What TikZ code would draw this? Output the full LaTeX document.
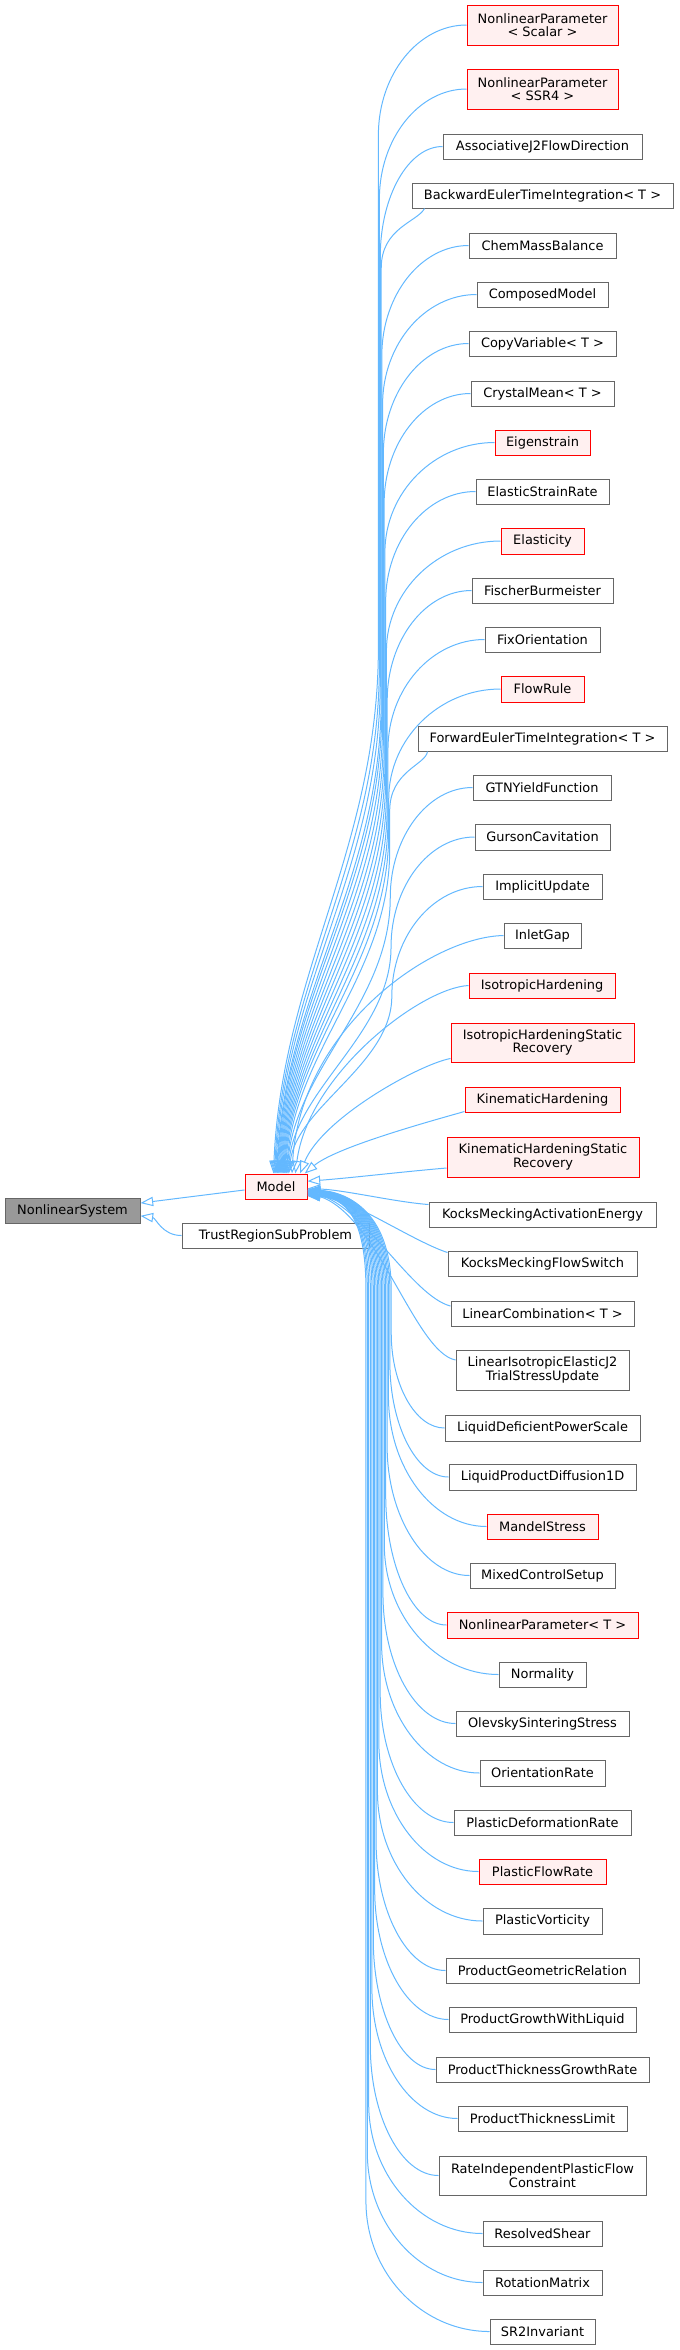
\documentclass[tikz,border=0pt]{standalone}
\usepackage{fontspec}
\setmainfont{DejaVu Sans}
\usetikzlibrary{arrows.meta}
\definecolor{edgeblue}{HTML}{63B8FF}
\definecolor{boxgray}{HTML}{666666}
\definecolor{redfill}{HTML}{FFF0F0}
\definecolor{rootfill}{HTML}{999999}
\tikzset{
  cls/.style={draw=boxgray, fill=white, line width=0.75pt, inner sep=0pt, align=center,
    font=\fontsize{9.7}{10}\selectfont},
  redcls/.style={cls, draw=red, fill=redfill},
  rootcls/.style={cls, fill=rootfill},
  inh/.style={draw=edgeblue, line width=0.75pt, -{Triangle[open, length=9.5pt, width=7pt]}},
}
% #1 name, #2 x1, #3 y1, #4 x2, #5 y2, #6 style, #7 text
\newcommand{\cnode}[7]{%
  \node[#6, minimum width={(#4-#2)*0.75pt}, minimum height={(#5-#3)*0.75pt}] (#1) at ({(#2+#4)/2},{(#3+#5)/2}) {#7};}
% common tail of an edge from above: from (\bxv,\ymv) down to the top of Model
\newcommand{\uptail}{%
  \pgfmathsetmacro{\ytr}{max(\ymv,640+0.28*\ycv)}%
  \pgfmathsetmacro{\Lv}{1174-\ytr}%
  \pgfmathsetmacro{\cmA}{\ytr + 0.38*\Lv}%
  \pgfmathsetmacro{\cmB}{1174 - 0.38*\Lv}%
  \pgfmathsetmacro{\cmX}{\xev + 0.08*(\bxv-\xev)}%
  \pgfmathsetmacro{\xsh}{(\xev-276)*0.75}}
% edge from a child above Model: #1 name, #2 left x, #3 centre y
\newcommand{\upE}[3]{%
  \pgfmathsetmacro{\ycv}{#3}%
  \pgfmathsetmacro{\bxv}{378 + #3*0.01556}%
  \pgfmathsetmacro{\xev}{273 + #3*0.0178}%
  \pgfmathsetmacro{\ymv}{#3+110}%
  \uptail
  \pgfmathsetmacro{\cbX}{\bxv+0.45*(#2-\bxv)}%
  \pgfmathsetmacro{\caY}{#3+49.5}%
  \draw[inh] (#1.west) .. controls (\cbX,#3) and (\bxv,\caY) .. (\bxv,\ymv) -- (\bxv,\ytr)
     .. controls (\bxv,\cmA) and (\cmX,\cmB) .. ([xshift=\xsh pt]Model.north);}
% edge from a wide child above Model, entering its bottom edge: #1 name, #2 xshift px, #3 bottom y
\newcommand{\upB}[3]{%
  \pgfmathsetmacro{\ycv}{#3}%
  \pgfmathsetmacro{\bxv}{378 + #3*0.01556}%
  \pgfmathsetmacro{\xev}{273 + #3*0.0178}%
  \pgfmathsetmacro{\ymv}{#3+60}%
  \uptail
  \draw[inh] ([xshift=#2*0.75pt]#1.south west) .. controls ({\bxv+36},{#3+14}) and (\bxv,{#3+20}) .. (\bxv,\ymv) -- (\bxv,\ytr)
     .. controls (\bxv,\cmA) and (\cmX,\cmB) .. ([xshift=\xsh pt]Model.north);}
% edge from a child below Model: #1 name, #2 left x, #3 centre y
\newcommand{\dnE}[3]{%
  \pgfmathsetmacro{\bxv}{392 - (#3-1400)*0.027957}%
  \pgfmathsetmacro{\rrv}{min(130, 0.4*(#3-1190))}%
  \pgfmathsetmacro{\yev}{1188 + min(#3-1190,1150)*0.006957}%
  \pgfmathsetmacro{\ymv}{#3-\rrv}%
  \pgfmathsetmacro{\ytr}{min(\ymv,1290)}%
  \pgfmathsetmacro{\cbX}{\bxv+0.45*(#2-\bxv)}%
  \pgfmathsetmacro{\caY}{#3-0.45*\rrv}%
  \pgfmathsetmacro{\ysh}{(1186.5-\yev)*0.75}%
  \draw[inh] (#1.west) .. controls (\cbX,#3) and (\bxv,\caY) .. (\bxv,\ymv) -- (\bxv,\ytr)
     .. controls (\bxv,{\yev+20}) and (345,{\yev+2}) .. ([yshift=\ysh pt]Model.east);}
\begin{document}
\begin{tikzpicture}[x=0.75pt,y=-0.75pt]
\useasboundingbox (0,0) rectangle (679,2350);
% left part
\cnode{ns}{5}{1198}{140}{1223}{rootcls}{NonlinearSystem}
\cnode{Model}{245}{1174}{307}{1199}{redcls}{Model}
\cnode{trsp}{182}{1223}{369}{1248}{cls}{TrustRegionSubProblem}
% right column
\cnode{npscalar}{467}{5}{618}{45}{redcls}{NonlinearParameter\\< Scalar >}
\cnode{npssr}{467}{69}{618}{109}{redcls}{NonlinearParameter\\< SSR4 >}
\cnode{assoc}{443}{134}{642}{159}{cls}{AssociativeJ2FlowDirection}
\cnode{backward}{412}{183}{673}{208}{cls}{BackwardEulerTimeIntegration< T >}
\cnode{chem}{469}{233}{616}{258}{cls}{ChemMassBalance}
\cnode{composed}{477}{282}{608}{307}{cls}{ComposedModel}
\cnode{copyvar}{469}{331}{616}{356}{cls}{CopyVariable< T >}
\cnode{crystal}{471}{381}{614}{406}{cls}{CrystalMean< T >}
\cnode{eigen}{495}{430}{590}{455}{redcls}{Eigenstrain}
\cnode{esr}{476}{479}{609}{504}{cls}{ElasticStrainRate}
\cnode{elasticity}{501}{528}{584}{554}{redcls}{Elasticity}
\cnode{fischer}{472}{578}{613}{603}{cls}{FischerBurmeister}
\cnode{fixor}{485}{627}{600}{652}{cls}{FixOrientation}
\cnode{flowrule}{501}{676}{584}{702}{redcls}{FlowRule}
\cnode{forward}{418}{726}{667}{751}{cls}{ForwardEulerTimeIntegration< T >}
\cnode{gtn}{473}{775}{611}{800}{cls}{GTNYieldFunction}
\cnode{gurson}{475}{824}{610}{850}{cls}{GursonCavitation}
\cnode{implicit}{483}{874}{602}{899}{cls}{ImplicitUpdate}
\cnode{inlet}{504}{923}{581}{948}{cls}{InletGap}
\cnode{isoh}{469}{973}{615}{998}{redcls}{IsotropicHardening}
\cnode{isohsr}{451}{1023}{634}{1062}{redcls}{IsotropicHardeningStatic\\Recovery}
\cnode{kinh}{465}{1087}{620}{1112}{redcls}{KinematicHardening}
\cnode{kinhsr}{447}{1137}{639}{1177}{redcls}{KinematicHardeningStatic\\Recovery}
\cnode{kmae}{429}{1202}{656}{1227}{cls}{KocksMeckingActivationEnergy}
\cnode{kmfs}{448}{1251}{637}{1276}{cls}{KocksMeckingFlowSwitch}
\cnode{lincomb}{451}{1301}{634}{1326}{cls}{LinearCombination< T >}
\cnode{lij}{456}{1350}{629}{1390}{cls}{LinearIsotropicElasticJ2\\TrialStressUpdate}
\cnode{ldps}{445}{1415}{640}{1441}{cls}{LiquidDeficientPowerScale}
\cnode{lpd}{449}{1464}{636}{1490}{cls}{LiquidProductDiffusion1D}
\cnode{mandel}{487}{1514}{598}{1539}{redcls}{MandelStress}
\cnode{mixed}{470}{1563}{615}{1588}{cls}{MixedControlSetup}
\cnode{npT}{447}{1612}{638}{1638}{redcls}{NonlinearParameter< T >}
\cnode{normality}{499}{1662}{586}{1687}{cls}{Normality}
\cnode{olevsky}{456}{1711}{629}{1736}{cls}{OlevskySinteringStress}
\cnode{orrate}{480}{1760}{605}{1786}{cls}{OrientationRate}
\cnode{pdr}{454}{1810}{631}{1835}{cls}{PlasticDeformationRate}
\cnode{pfr}{479}{1859}{606}{1884}{redcls}{PlasticFlowRate}
\cnode{pvort}{483}{1908}{602}{1934}{cls}{PlasticVorticity}
\cnode{pgr}{446}{1958}{639}{1983}{cls}{ProductGeometricRelation}
\cnode{pgwl}{449}{2007}{636}{2032}{cls}{ProductGrowthWithLiquid}
\cnode{ptgr}{436}{2057}{649}{2082}{cls}{ProductThicknessGrowthRate}
\cnode{ptl}{458}{2106}{627}{2131}{cls}{ProductThicknessLimit}
\cnode{ripfc}{439}{2156}{646}{2195}{cls}{RateIndependentPlasticFlow\\Constraint}
\cnode{resolved}{483}{2221}{602}{2246}{cls}{ResolvedShear}
\cnode{rotm}{483}{2270}{602}{2295}{cls}{RotationMatrix}
\cnode{sr2}{490}{2319}{595}{2344}{cls}{SR2Invariant}
% edges to the root
\draw[inh] ([yshift=-2.6pt]Model.west) -- ([yshift=5.6pt]ns.east);
\draw[inh] (trsp.west) .. controls (162,1235.5) and (156,1218) .. ([yshift=-4pt]ns.east);
% children above Model
\upE{npscalar}{467}{25}
\upE{npssr}{467}{89}
\upE{assoc}{443}{146.5}
\upB{backward}{13}{208}
\upE{chem}{469}{245.5}
\upE{composed}{477}{294.5}
\upE{copyvar}{469}{343.5}
\upE{crystal}{471}{393.5}
\upE{eigen}{495}{442.5}
\upE{esr}{476}{491.5}
\upE{elasticity}{501}{541}
\upE{fischer}{472}{590.5}
\upE{fixor}{485}{639.5}
\upE{flowrule}{501}{689}
\upB{forward}{10}{751}
\upE{gtn}{473}{787.5}
\upE{gurson}{475}{837}
\upE{implicit}{483}{886.5}
\draw[inh] (inlet.west) .. controls (430,937) and (300,1030) .. ([xshift=12pt]Model.north);
\draw[inh] (isoh.west) .. controls (420,988) and (308,1075) .. ([xshift=14.5pt]Model.north);
\draw[inh] ([yshift=-12pt]isohsr.west) .. controls (420,1064) and (322,1118) .. ([xshift=18pt]Model.north);
\draw[inh] ([yshift=-9pt]kinh.west) .. controls (420,1124) and (335,1148) .. ([xshift=21.5pt]Model.north);
% children level with / below Model
\draw[inh] ([yshift=-8.25pt]kinhsr.west) .. controls (400,1172) and (350,1178) .. ([yshift=4pt]Model.east);
\draw[inh] ([yshift=7.5pt]kmae.west) .. controls (395,1202) and (345,1190) .. ([yshift=-1.5pt]Model.east);
\draw[inh] ([yshift=8.25pt]kmfs.west) .. controls (415,1242) and (352,1200) .. ([yshift=-3pt]Model.east);
\draw[inh] ([yshift=5.6pt]lincomb.west) .. controls (412,1296) and (365,1208) .. ([yshift=-3.75pt]Model.east);
\draw[inh] ([yshift=7.5pt]lij.west) .. controls (415,1352) and (378,1215) .. ([yshift=-4.5pt]Model.east);
\dnE{ldps}{445}{1428}
\dnE{lpd}{449}{1477}
\dnE{mandel}{487}{1526.5}
\dnE{mixed}{470}{1575.5}
\dnE{npT}{447}{1625}
\dnE{normality}{499}{1674.5}
\dnE{olevsky}{456}{1723.5}
\dnE{orrate}{480}{1773}
\dnE{pdr}{454}{1822.5}
\dnE{pfr}{479}{1871.5}
\dnE{pvort}{483}{1921}
\dnE{pgr}{446}{1970.5}
\dnE{pgwl}{449}{2019.5}
\dnE{ptgr}{436}{2069.5}
\dnE{ptl}{458}{2118.5}
\dnE{ripfc}{439}{2175.5}
\dnE{resolved}{483}{2233.5}
\dnE{rotm}{483}{2282.5}
\dnE{sr2}{490}{2331.5}
\end{tikzpicture}
\end{document}
